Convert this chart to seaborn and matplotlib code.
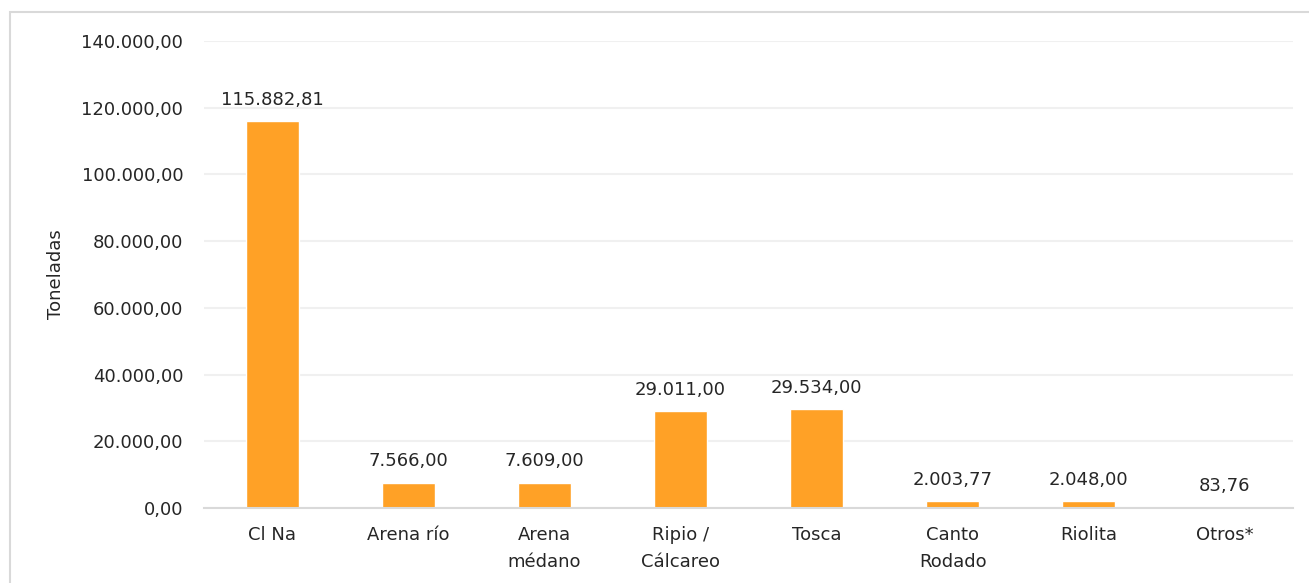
import matplotlib
matplotlib.use("Agg")
import matplotlib.pyplot as plt
import seaborn as sns
import pandas as pd
from matplotlib.patches import Rectangle

# data
categorias = ["Cl Na", "Arena río", "Arena\nmédano", "Ripio /\nCálcareo",
              "Tosca", "Canto\nRodado", "Riolita", "Otros*"]
toneladas = [115882.81, 7566.00, 7609.00, 29011.00, 29534.00, 2003.77, 2048.00, 83.76]
y_ticks = [0, 20000, 40000, 60000, 80000, 100000, 120000, 140000]

BAR_COLOR = "#FFA126"
TEXT_COLOR = "#262626"


def fmt_es(v):
    # 115882.81 -> 115.882,81
    s = f"{v:,.2f}"
    return s.replace(",", "X").replace(".", ",").replace("X", ".")


df = pd.DataFrame({"categoria": categorias, "toneladas": toneladas})

sns.set_theme(style="white")
plt.rcParams["font.family"] = ["DejaVu Sans"]
plt.rcParams["text.color"] = TEXT_COLOR

fig = plt.figure(figsize=(13.09, 5.83), dpi=100)
ax = fig.add_axes([204 / 1309, 75 / 583, 1089 / 1309, 467 / 583])

sns.barplot(data=df, x="categoria", y="toneladas", color=BAR_COLOR,
            saturation=1, width=0.39, ax=ax)

ax.set_ylim(0, 140000)
ax.set_xlim(-0.5, len(categorias) - 0.5)
ax.set_yticks(y_ticks)
ax.set_yticklabels([fmt_es(t) for t in y_ticks], fontsize=13, color=TEXT_COLOR)
ax.set_xticks(range(len(categorias)))
ax.set_xticklabels(categorias, fontsize=13, color=TEXT_COLOR, linespacing=1.65,
                   va="top")
ax.tick_params(axis="y", length=0, pad=15)
ax.tick_params(axis="x", length=0, pad=13)

# gridlines
ax.grid(axis="y", color="#f0f0f0", linewidth=1.5)
ax.set_axisbelow(True)
for side in ["top", "right", "left"]:
    ax.spines[side].set_visible(False)
ax.spines["bottom"].set_color("#d9d9d9")
ax.spines["bottom"].set_linewidth(1.5)

ax.set_xlabel("")
ax.set_ylabel("Toneladas", fontsize=13, color=TEXT_COLOR)
ax.yaxis.set_label_coords(-0.128, 0.5)

# value labels above bars
for i, v in enumerate(toneladas):
    ax.annotate(fmt_es(v), (i, v), xytext=(0, 9), textcoords="offset points",
                ha="center", va="bottom", fontsize=13, color=TEXT_COLOR)

# chart border
fig.patches.append(Rectangle((9.5 / 1309, -0.05), 1.2, 0.979 + 0.05,
                             transform=fig.transFigure, fill=False,
                             edgecolor="#d9d9d9", linewidth=1.5))

fig.savefig("out.png", dpi=100, facecolor="white")
